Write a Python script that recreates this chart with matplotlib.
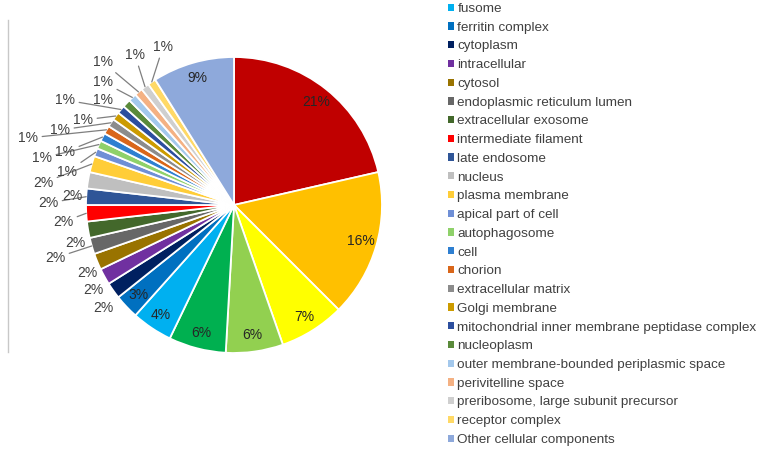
import matplotlib
matplotlib.use('Agg')
import matplotlib.pyplot as plt
from matplotlib.patches import Patch
import numpy as np

plt.rcParams['font.family'] = ['Liberation Sans', 'DejaVu Sans']

# number of proteins per cellular component, clockwise from 12 o'clock
counts = [24, 18, 8, 7, 7, 5, 3,
          2, 2, 2, 2, 2, 2, 2, 2, 2,
          1, 1, 1, 1, 1, 1, 1, 1, 1, 1, 1, 1,
          10]

colors = ['#C00000', '#FFC000', '#FFFF00', '#92D050', '#00B050',
          '#00B0F0', '#0070C0', '#002060', '#7030A0', '#997300',
          '#676767', '#43682B', '#FF0000', '#2F5597', '#BFBFBF',
          '#FFCD38', '#6F8FD6', '#8FD16A', '#2E7FD1', '#D9661A',
          '#8C8C8C', '#CC9B00', '#2C4E9E', '#5A8A3A', '#A3C8EC',
          '#F4B183', '#CFCFCF', '#FFD966', '#8EA9DB']

# legend only lists the components from fusome onwards
legend_names = ['fusome', 'ferritin complex', 'cytoplasm', 'intracellular',
                'cytosol', 'endoplasmic reticulum lumen', 'extracellular exosome',
                'intermediate filament', 'late endosome', 'nucleus',
                'plasma membrane', 'apical part of cell', 'autophagosome', 'cell',
                'chorion', 'extracellular matrix', 'Golgi membrane',
                'mitochondrial inner membrane peptidase complex', 'nucleoplasm',
                'outer membrane-bounded periplasmic space', 'perivitelline space',
                'preribosome, large subunit precursor', 'receptor complex',
                'Other cellular components']

# pie geometry in pixels (y grows downwards)
CX, CY, R = 234, 205, 148
inner = {0, 1, 2, 3, 4, 5, 6, 28}
# outside labels: text centre and whether a leader line is drawn
outside = {7: (103, 308, False), 8: (93, 290, False), 9: (87, 273, False),
           10: (55, 258, True), 11: (75, 243, False), 12: (63, 222, True),
           13: (48, 203, True), 14: (72, 196, False), 15: (43, 183, True),
           16: (67, 172, True), 17: (42, 158, True), 18: (65, 152, True),
           19: (28, 138, True), 20: (60, 130, True), 21: (83, 120, True),
           22: (65, 100, True), 23: (103, 100, False), 24: (103, 82, True),
           25: (103, 62, True), 26: (135, 55, True), 27: (163, 47, True)}

fig = plt.figure(figsize=(7.68, 4.5), dpi=100)
ax = fig.add_axes([0, 0, 1, 1])

wedges, _ = ax.pie(counts, colors=colors, center=(CX, CY), radius=R,
                   startangle=-90, counterclock=True,
                   wedgeprops=dict(edgecolor='white', linewidth=1.3))
ax.set_xlim(0, 768)
ax.set_ylim(450, 0)
ax.axis('off')

total = sum(counts)
for i, w in enumerate(wedges):
    mid = np.deg2rad((w.theta1 + w.theta2) / 2)
    txt = f'{round(counts[i] / total * 100)}%'
    if i in inner:
        ax.text(CX + 0.89 * R * np.cos(mid), CY + 0.89 * R * np.sin(mid), txt,
                ha='center', va='center', fontsize=10, color='#262626')
        continue
    lx, ly, lead = outside[i]
    if lead:
        ax.annotate(txt, xy=(CX + R * np.cos(mid), CY + R * np.sin(mid)),
                    xytext=(lx, ly), ha='center', va='center', fontsize=10,
                    color='#404040',
                    arrowprops=dict(arrowstyle='-', color='#7f7f7f', lw=0.9,
                                    shrinkA=1, shrinkB=0))
    else:
        ax.text(lx, ly, txt, ha='center', va='center', fontsize=10,
                color='#404040')

# thin rule on the left edge
ax.plot([8, 8], [20, 352], color='#c8c8c8', lw=1)

handles = [Patch(facecolor=c) for c in colors[5:]]
ax.legend(handles, legend_names, loc='upper left', bbox_to_anchor=(448, 3),
          bbox_transform=ax.transData, frameon=False, fontsize=9.7,
          handlelength=0.45, handleheight=0.45, handletextpad=0.25,
          labelspacing=0.5, borderpad=0, borderaxespad=0,
          labelcolor='#404040')

fig.savefig('out.png', dpi=100)
